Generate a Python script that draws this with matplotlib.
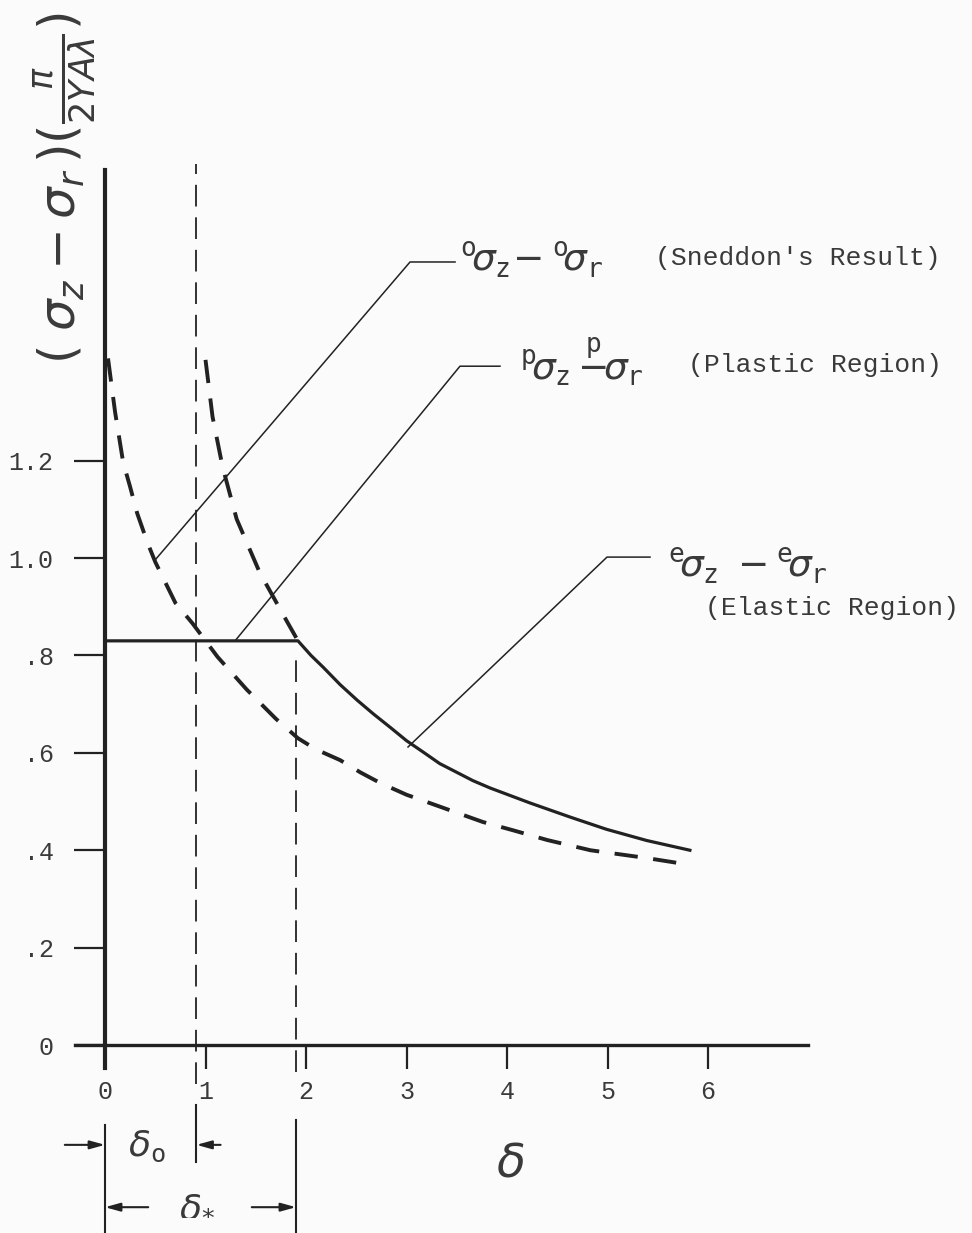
import matplotlib
matplotlib.use("Agg")
import matplotlib.pyplot as plt

# ---- data ----
sneddon_x = [0.03, 0.10, 0.18, 0.25, 0.32, 0.42, 0.50, 0.70, 0.87, 1.12, 1.41, 1.70, 1.92,
             2.10, 2.34, 2.54, 2.74, 3.00, 3.76, 4.06, 4.40, 4.83, 5.39, 5.82]
sneddon_y = [1.41, 1.30, 1.197, 1.146, 1.092, 1.033, 0.992, 0.908, 0.866, 0.797, 0.73, 0.67, 0.63,
             0.607, 0.585, 0.560, 0.538, 0.514, 0.458, 0.441, 0.421, 0.40, 0.384, 0.37]

plastic_dash_x = [1.00, 1.07, 1.17, 1.31, 1.54, 1.81, 1.92]
plastic_dash_y = [1.407, 1.29, 1.187, 1.08, 0.97, 0.87, 0.83]

solution_x = [0.0, 1.92, 2.05, 2.17, 2.34, 2.51, 2.67, 2.84, 3.00, 3.17, 3.33, 3.50, 3.66,
              3.83, 4.23, 4.63, 4.99, 5.39, 5.82]
solution_y = [0.83, 0.83, 0.80, 0.776, 0.740, 0.708, 0.680, 0.652, 0.625, 0.601, 0.578, 0.560,
              0.543, 0.528, 0.497, 0.468, 0.443, 0.420, 0.40]

delta_0 = 0.91
delta_star = 1.90

x_ticks = [0, 1, 2, 3, 4, 5, 6]
x_tick_labels = ["0", "1", "2", "3", "4", "5", "6"]
y_ticks = [0, 0.2, 0.4, 0.6, 0.8, 1.0, 1.2]
y_tick_labels = ["0", ".2", ".4", ".6", ".8", "1.0", "1.2"]

INK = "#222222"
TXT = "#3a3a3a"
MONO = "Liberation Mono"

fig = plt.figure(figsize=(9.72, 12.33), dpi=100, facecolor="#fbfbfb")
ax = fig.add_axes([0, 0, 1, 1])
ax.set_facecolor("#fbfbfb")
ax.set_xlim(-1.045, 8.627)
ax.set_ylim(-0.386, 2.146)

for s in ["top", "right"]:
    ax.spines[s].set_visible(False)
ax.spines["left"].set_position(("data", 0))
ax.spines["left"].set_bounds(-0.047, 1.797)
ax.spines["left"].set_linewidth(3.0)
ax.spines["left"].set_color(INK)
ax.spines["bottom"].set_position(("data", 0))
ax.spines["bottom"].set_bounds(-0.3, 7.0)
ax.spines["bottom"].set_linewidth(2.4)
ax.spines["bottom"].set_color(INK)

ax.set_xticks(x_ticks)
ax.set_xticklabels(x_tick_labels, fontfamily=MONO, fontsize=18, color=TXT)
ax.set_yticks(y_ticks)
ax.set_yticklabels(y_tick_labels, fontfamily=MONO, fontsize=18, color=TXT)
ax.tick_params(axis="x", direction="out", length=17, width=1.6, color=INK, pad=8)
ax.tick_params(axis="y", direction="out", length=22, width=1.6, color=INK, pad=15)

# curves
ax.plot(solution_x, solution_y, color=INK, lw=2.3, solid_joinstyle="round")
ax.plot(sneddon_x, sneddon_y, color=INK, lw=2.8, dashes=(6, 4))
ax.plot(plastic_dash_x, plastic_dash_y, color=INK, lw=2.8, dashes=(6, 4))

# vertical dashed guide lines
ax.plot([delta_0, delta_0], [-0.08, 1.81], color=INK, lw=1.3, dashes=(12, 6))
ax.plot([delta_star, delta_star], [-0.055, 0.81], color=INK, lw=1.3, dashes=(12, 6))

# leader lines
lead_kw = dict(color=INK, lw=1.1)
ax.plot([0.498, 3.035, 3.483], [0.996, 1.608, 1.608], **lead_kw)
ax.plot([1.294, 3.532, 3.930], [0.830, 1.394, 1.394], **lead_kw)
ax.plot([3.015, 4.995, 5.423], [0.612, 1.002, 1.002], **lead_kw)

# labels
ax.text(3.53, 1.612, r"$^{\mathtt{o}}\!\sigma_{\mathtt{z}}\!-{}^{\mathtt{o}}\!\sigma_{\mathtt{r}}$",
        fontsize=27, color=TXT, va="center", ha="left")
ax.text(5.47, 1.616, "(Sneddon's Result)", fontfamily=MONO, fontsize=19, color=TXT,
        va="center", ha="left")
ax.text(4.13, 1.40, r"$^{\mathtt{p}}\!\sigma_{\mathtt{z}}\,\overset{\mathtt{p}}{-}\!\sigma_{\mathtt{r}}$",
        fontsize=27, color=TXT, va="center", ha="left")
ax.text(5.80, 1.396, "(Plastic Region)", fontfamily=MONO, fontsize=19, color=TXT,
        va="center", ha="left")
ax.text(5.60, 0.985, r"$^{\mathtt{e}}\!\sigma_{\mathtt{z}}\;-{}^{\mathtt{e}}\!\sigma_{\mathtt{r}}$",
        fontsize=27, color=TXT, va="center", ha="left")
ax.text(5.97, 0.897, "(Elastic Region)", fontfamily=MONO, fontsize=19, color=TXT,
        va="center", ha="left")

# axis labels
fig.text(0.068, 0.848, r"$(\;\sigma_z - \sigma_r\,)(\frac{\pi}{2YA\lambda})$", rotation=90,
         fontsize=36, color=TXT, ha="center", va="center")
ax.text(4.03, -0.245, r"$\delta$", fontsize=34, color=TXT, ha="center", va="center")

# dimension lines below axis
ax.plot([0, 0], [-0.164, -0.386], color=INK, lw=1.5)
ax.plot([delta_0, delta_0], [-0.123, -0.240], color=INK, lw=1.5)
ax.plot([delta_star, delta_star], [-0.154, -0.386], color=INK, lw=1.5)
arr = dict(arrowstyle="-|>,head_length=0.9,head_width=0.25", color=INK, lw=1.5,
           shrinkA=0, shrinkB=0)
ax.annotate("", xy=(0, -0.205), xytext=(-0.40, -0.205), arrowprops=arr)
ax.annotate("", xy=(delta_0, -0.205), xytext=(1.15, -0.205), arrowprops=arr)
ax.annotate("", xy=(0, -0.333), xytext=(0.43, -0.333), arrowprops=arr)
ax.annotate("", xy=(delta_star, -0.333), xytext=(1.46, -0.333), arrowprops=arr)
ax.text(0.42, -0.208, r"$\delta_{\mathtt{o}}$", fontsize=26, color=TXT, ha="center", va="center")
ax.text(0.92, -0.328, r"$\delta_{*}$", fontsize=26, color=TXT, ha="center", va="center")

fig.savefig("out.png", dpi=100, facecolor=fig.get_facecolor())
